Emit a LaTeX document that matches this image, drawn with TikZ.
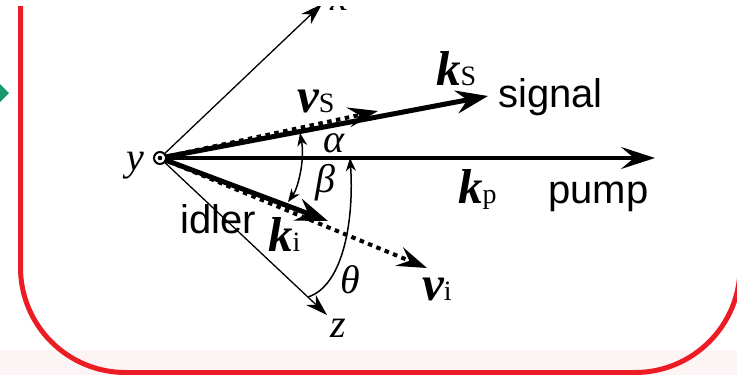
\documentclass[tikz,border=0pt]{standalone}
\usepackage{fontspec}
\setmainfont{Liberation Serif}
\setsansfont{Liberation Sans}
\usetikzlibrary{arrows.meta}
\definecolor{boxred}{RGB}{236,28,36}
\definecolor{bandpink}{RGB}{253,244,246}
\definecolor{diagreen}{RGB}{24,152,108}
\newcommand{\bvec}[2]{{\fontsize{49}{49}\selectfont\bfseries\itshape #1}{\fontsize{28}{28}\selectfont #2}}
\newcommand{\lbl}[1]{{\fontsize{40}{40}\selectfont\itshape #1}}
\newcommand{\word}[1]{{\fontsize{40}{40}\selectfont\sffamily #1}}
\tikzset{
  axisline/.style={line width=1.3pt,-{Stealth[length=22pt,width=14pt,inset=7pt]}},
  pumpvec/.style={line width=3.3pt,-{Stealth[length=34pt,width=22pt,inset=13pt]}},
  thickvec/.style={line width=5pt,-{Stealth[length=32pt,width=23pt,inset=11pt]}},
  dotvec/.style={line width=4pt,dash pattern=on 4.5pt off 4.5pt,-{Stealth[length=30pt,width=20pt,inset=11pt]}},
  anglearc/.style={line width=1.5pt,-{Stealth[length=13pt,width=10pt,inset=4pt]}},
  anglearcboth/.style={line width=1.5pt,{Stealth[length=13pt,width=10pt,inset=4pt]}-{Stealth[length=13pt,width=10pt,inset=4pt]}},
  txt/.style={inner sep=0pt,anchor=base west},
}
\begin{document}
\begin{tikzpicture}[x=1pt,y=-1pt]
\useasboundingbox (0,0) rectangle (737,375);
% background band and frame
\fill[bandpink] (0,350) rectangle (737,375);
\draw[boxred,line width=5pt,rounded corners=105pt] (20.5,-200) rectangle (740,372.5);
\fill[diagreen] (-11,93) -- (-1,83) -- (9,93) -- (-1,103) -- cycle;
% coordinates
\coordinate (O) at (160,158);
\coordinate (xtip) at (322,4);
\coordinate (ztip) at (327,315);
\coordinate (kptip) at (655,158);
\coordinate (kstip) at (488,96);
\coordinate (vstip) at (378,111);
\coordinate (kitip) at (328,221);
\coordinate (vitip) at (427,268);
\coordinate (ab1) at (288,202);
\coordinate (ab2) at (300,133);
\coordinate (th1) at (308,297);
\coordinate (th2) at (350,158);
% vectors
\draw[axisline] (O) -- (xtip);
\draw[axisline] (O) -- (ztip);
\draw[pumpvec] (O) -- (kptip);
\draw[thickvec] (O) -- (kstip);
\draw[thickvec] (O) -- (kitip);
\draw[dotvec] (O) -- (vstip);
\draw[dotvec] (O) -- (vitip);
% angle arcs
\draw[anglearcboth] (ab1) .. controls (298,188) and (305,160) .. (ab2);
\draw[anglearc] (th1) .. controls (345,285) and (354,215) .. (th2);
% origin (y axis out of page)
\node[circle,draw,fill=white,line width=2pt,minimum size=12pt,inner sep=0pt] (Oc) at (O) {};
\fill (O) circle (2.3pt);
% labels
\node[txt] (xl) at (330,10) {\lbl{x}};
\node[txt] (yl) at (126,170) {\lbl{y}};
\node[txt] (zl) at (330,337) {\lbl{z}};
\node[txt] (vsl) at (297,112) {\bvec{v}{S}};
\node[txt] (ksl) at (436,85) {\bvec{k}{S}};
\node[txt] (kpl) at (458,203) {\bvec{k}{p}};
\node[txt] (kil) at (268,251) {\bvec{k}{i}};
\node[txt] (vil) at (422,300) {\bvec{v}{i}};
\node[txt] (sig) at (498,107) {\word{signal}};
\node[txt] (pmp) at (548,203) {\word{pump}};
\node[txt] (idl) at (180,233) {\word{idler}};
\node[txt] (al) at (323,152) {\lbl{α}};
\node[txt] (bl) at (315,192) {\lbl{β}};
\node[txt] (tl) at (340,293) {\lbl{θ}};
% top strip
\fill[white] (0,0) rectangle (737,5.5);
\end{tikzpicture}
\end{document}
